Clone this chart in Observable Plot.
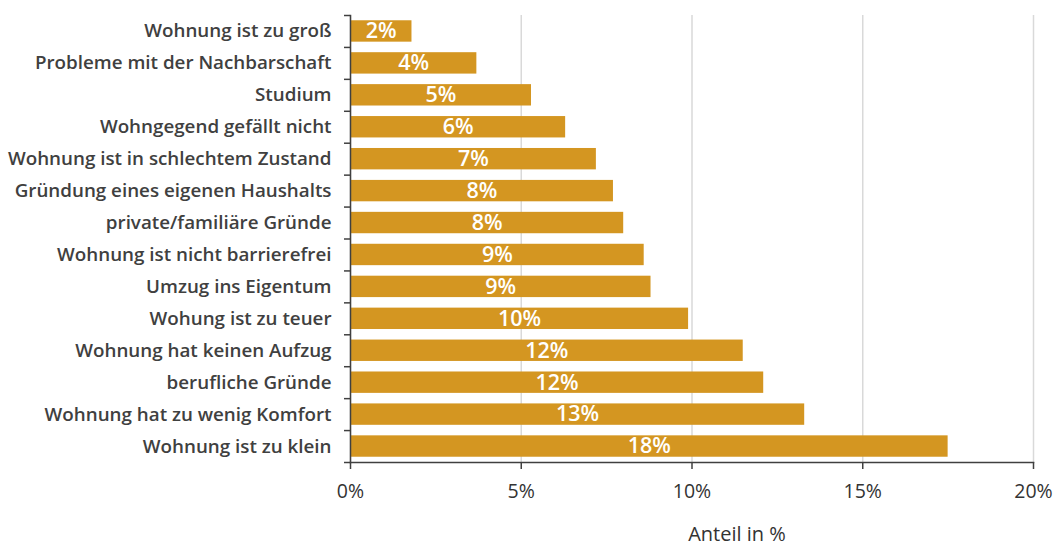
<!DOCTYPE html>
<html>
<head>
<meta charset="utf-8">
<script src="https://cdn.jsdelivr.net/npm/d3@7"></script>
<script src="https://cdn.jsdelivr.net/npm/@observablehq/plot@0.6"></script>
<style>
  html, body { margin: 0; padding: 0; background: white; }
</style>
</head>
<body>
<div id="chart"></div>
<script>
const categories = [
  "Wohnung ist zu groß",
  "Probleme mit der Nachbarschaft",
  "Studium",
  "Wohngegend gefällt nicht",
  "Wohnung ist in schlechtem Zustand",
  "Gründung eines eigenen Haushalts",
  "private/familiäre Gründe",
  "Wohnung ist nicht barrierefrei",
  "Umzug ins Eigentum",
  "Wohung ist zu teuer",
  "Wohnung hat keinen Aufzug",
  "berufliche Gründe",
  "Wohnung hat zu wenig Komfort",
  "Wohnung ist zu klein"
];
const values = [1.8, 3.7, 5.3, 6.3, 7.2, 7.7, 8.0, 8.6, 8.8, 9.9, 11.5, 12.1, 13.3, 17.5];
const valueLabels = ["2%", "4%", "5%", "6%", "7%", "8%", "8%", "9%", "9%", "10%", "12%", "12%", "13%", "18%"];
const xTicks = [0, 5, 10, 15, 20];
const xTickLabels = ["0%", "5%", "10%", "15%", "20%"];
const axisTitle = "Anteil in %";

const data = categories.map((c, i) => ({category: c, value: values[i], label: valueLabels[i]}));

const W = 1056, H = 547, mT = 15, mB = 85, mL = 350, mR = 23;
const step = (H - mT - mB) / categories.length;
const dark = "#404040";

const chart = Plot.plot({
  width: W,
  height: H,
  marginLeft: mL,
  marginRight: mR,
  marginTop: mT,
  marginBottom: mB,
  style: {fontFamily: "'Open Sans', sans-serif", background: "white", color: dark},
  x: {domain: [0, 20]},
  y: {domain: categories, paddingInner: 0.33, paddingOuter: 0.165, round: false},
  marks: [
    Plot.gridX(xTicks, {stroke: "#d9d9d9", strokeOpacity: 1, strokeWidth: 1.5}),
    Plot.barX(data, {x: "value", y: "category", fill: "#D49621"}),
    Plot.text(data, {x: d => d.value / 2, y: "category", text: "label", fill: "white", fontSize: 21.5, fontWeight: 600}),
    Plot.axisY({tickSize: 0, tickPadding: 19, fontSize: 18.8, fontWeight: 600, fill: dark, label: null}),
    Plot.axisY({tickSize: 6, tickFormat: () => "", dy: -step / 2, stroke: dark, strokeWidth: 1.5, label: null}),
    Plot.axisY([categories[categories.length - 1]], {tickSize: 6, tickFormat: () => "", dy: step / 2, stroke: dark, strokeWidth: 1.5, label: null}),
    Plot.axisX(xTicks, {tickSize: 7, tickPadding: 15, fontSize: 19.5, fill: "#333", stroke: dark, strokeWidth: 1.5, tickFormat: (d) => xTickLabels[xTicks.indexOf(d)], label: null}),
    Plot.frame({anchor: "left", stroke: dark, strokeWidth: 1.5}),
    Plot.frame({anchor: "bottom", stroke: dark, strokeWidth: 1.5}),
    Plot.text([axisTitle], {frameAnchor: "bottom", dx: 45, dy: 78, fontSize: 20, fill: "#333"})
  ]
});
document.getElementById("chart").appendChild(chart);
</script>
</body>
</html>
